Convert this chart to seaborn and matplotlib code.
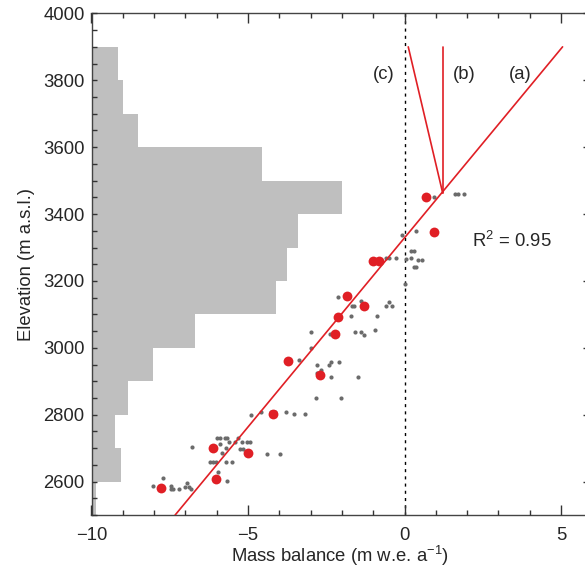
import numpy as np
import pandas as pd
import matplotlib
matplotlib.use("Agg")
import matplotlib.pyplot as plt
from matplotlib.ticker import MultipleLocator, FuncFormatter
import seaborn as sns

# glacier hypsometry: 100 m bands, bar length measured from the left axis (-10)
band_bottom = [2500, 2600, 2700, 2800, 2900, 3000, 3100,
               3200, 3300, 3400, 3500, 3600, 3700, 3800]
band_area = [0.14, 0.93, 0.75, 1.16, 1.97, 3.31, 5.89,
             6.24, 6.60, 8.00, 5.45, 1.48, 1.02, 0.84]

# individual stake measurements (grey)
stake_mb = [-8.03, -7.71, -7.46, -7.46, -7.40, -7.20, -7.02, -6.94, -6.88, -6.83,
            -6.80, -6.22, -6.13, -6.02, -5.97, -5.68, -5.83, -5.90, -5.70, -5.51,
            -5.70, -6.00, -5.89, -5.73, -5.68, -5.61, -5.42, -5.31, -5.19, -5.26,
            -5.15, -5.04, -4.94, -4.89, -4.59, -4.40, -3.97, -3.80, -4.27, -4.15,
            -3.54, -3.18, -2.13, -1.69, -1.60, -1.39, -1.70, -3.00, -2.38, -1.59,
            -1.39, -1.30, -3.00, -3.36, -2.79, -2.36, -2.40, -2.10, -2.67, -2.81,
            -2.35, -1.50, -2.83, -2.03, 0.95, 1.61, 1.70, 1.89, -0.09, 0.37,
            -0.59, -0.49, -0.27, 0.04, 0.21, 0.30, 0.21, 0.42, 0.55, 0.30,
            0.38, 0.02, -0.89, -0.49, -0.41, -0.60, -0.94]
stake_elev = [2588, 2612, 2587, 2578, 2578, 2578, 2583, 2596, 2583, 2578,
              2703, 2660, 2660, 2660, 2628, 2603, 2685, 2712, 2700, 2660,
              2660, 2730, 2730, 2730, 2730, 2720, 2720, 2730, 2720, 2698,
              2698, 2720, 2720, 2800, 2808, 2683, 2683, 2808, 2809, 2809,
              2802, 2802, 3153, 3125, 3125, 3139, 3096, 3048, 3042, 3048,
              3048, 3039, 2999, 2964, 2948, 2958, 2948, 2958, 2934, 2926,
              2912, 2912, 2849, 2849, 3451, 3460, 3460, 3460, 3338, 3350,
              3269, 3269, 3269, 3265, 3290, 3290, 3269, 3263, 3263, 3243,
              3243, 3191, 3096, 3138, 3126, 3126, 3053]

# band averages (red)
mean_mb = [-7.78, -6.13, -6.01, -4.99, -4.19, -3.71, -2.69, -2.21,
           -2.12, -1.84, -1.30, -1.00, -0.81, 0.69, 0.95]
mean_elev = [2580, 2700, 2608, 2686, 2802, 2960, 2918, 3042,
             3092, 3154, 3126, 3261, 3261, 3451, 3346]

# gradient extrapolations
line_a_mb = [-7.33, 5.05]
line_a_elev = [2500, 3900]
line_b_mb = [1.22, 1.22]
line_b_elev = [3463, 3900]
line_c_mb = [1.22, 0.12]
line_c_elev = [3463, 3900]

stakes = pd.DataFrame({"mb": stake_mb, "elev": stake_elev})
means = pd.DataFrame({"mb": mean_mb, "elev": mean_elev})

sns.set_style("white")
plt.rcParams["font.family"] = ["Liberation Sans", "DejaVu Sans"]
plt.rcParams["mathtext.fontset"] = "custom"
plt.rcParams["mathtext.rm"] = "Liberation Sans"
plt.rcParams["mathtext.default"] = "regular"

red = "#e01f25"
fs = 13.3

fig = plt.figure(figsize=(5.85, 5.67), dpi=100)
ax = fig.add_axes([91.5 / 585, 1 - 515.1 / 567, 496 / 585, (515.1 - 13.4) / 567])
ax.set_axisbelow(False)

ax.barh(band_bottom, band_area, height=100, left=-10, align="edge",
        color="#bfbfbf", edgecolor="none", zorder=1)

ax.axvline(0, color="black", lw=1, ls=(0, (2.2, 3)), zorder=2)

sns.scatterplot(data=stakes, x="mb", y="elev", ax=ax, color="#6b6b6b",
                s=9, linewidth=0, zorder=3)
ax.plot(line_a_mb, line_a_elev, color=red, lw=1.2, zorder=4)
ax.plot(line_b_mb, line_b_elev, color=red, lw=1.2, zorder=4)
ax.plot(line_c_mb, line_c_elev, color=red, lw=1.2, zorder=4)
sns.scatterplot(data=means, x="mb", y="elev", ax=ax, color=red,
                s=50, linewidth=0, zorder=5)

ax.text(3.71, 3816, "(a)", fontsize=fs, ha="center", va="center")
ax.text(1.90, 3816, "(b)", fontsize=fs, ha="center", va="center")
ax.text(-0.65, 3816, "(c)", fontsize=fs, ha="center", va="center")
ax.text(2.15, 3320, "R$^2$ = 0.95", fontsize=fs, ha="left", va="center")

ax.set_xlim(-10, -10 + 496 / 31.3)
ax.set_ylim(2500, 4000)
ax.xaxis.set_major_locator(MultipleLocator(5))
ax.xaxis.set_minor_locator(MultipleLocator(1))
ax.yaxis.set_major_locator(MultipleLocator(200))
ax.yaxis.set_minor_locator(MultipleLocator(50))
ax.xaxis.set_major_formatter(FuncFormatter(
    lambda v, p: f"{v:.0f}".replace("-", "\u2212")))
ax.tick_params(axis="both", which="both", direction="in",
               bottom=True, top=True, left=True, right=True,
               width=1, color="#333333", labelsize=fs)
ax.tick_params(axis="x", which="major", length=7, pad=8.5)
ax.tick_params(axis="x", which="minor", length=3.5)
ax.tick_params(axis="y", which="both", length=3.5, pad=5)
ax.tick_params(axis="y", which="minor", right=False)

for sp in ax.spines.values():
    sp.set_color("#444444")
    sp.set_linewidth(1)

ax.set_xlabel("Mass balance (m w.e. a$^{-1}$)", fontsize=fs, labelpad=0)
ax.set_ylabel("Elevation (m a.s.l.)", fontsize=fs, labelpad=6)

fig.savefig("out.png", dpi=100)
